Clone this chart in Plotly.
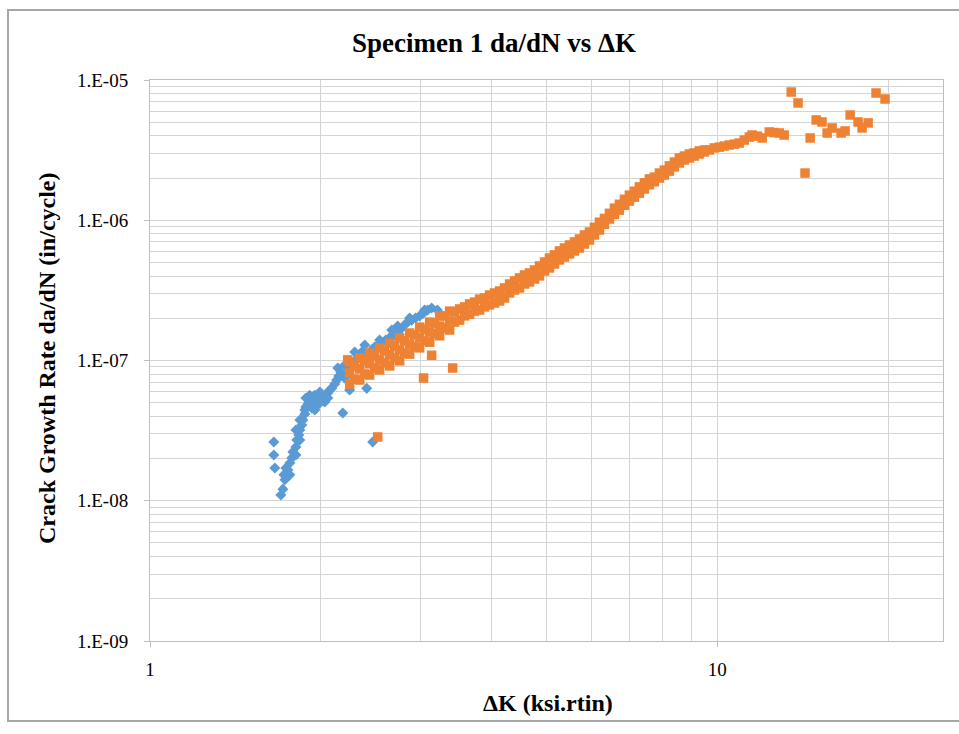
import math
import plotly.graph_objects as go

# ---- data -------------------------------------------------------------
blue_dk = [1.653, 1.653, 1.660, 1.701, 1.715, 1.729, 1.722, 1.750, 1.764, 1.778,
           1.786, 1.808, 1.815, 1.830, 1.837, 1.852, 1.860, 1.875, 1.883, 1.898,
           1.912, 1.936, 1.960, 1.976, 1.992, 2.008, 2.033, 2.058, 2.074, 2.091,
           2.117, 2.134, 2.152, 2.169, 2.187, 2.204, 2.222, 2.249, 2.267, 2.305,
           2.343, 2.371, 2.410, 2.420, 2.459, 2.489, 2.469, 2.520, 2.561, 2.603,
           2.646, 2.690, 2.733, 2.778, 2.811, 2.846, 2.892, 2.939, 2.988, 3.036,
           3.086, 3.137, 1.875, 1.928, 1.976, 2.033, 1.952, 2.058, 1.808, 1.837,
           1.764, 1.736, 1.912, 1.992, 1.952, 1.837, 1.808, 1.883, 2.143, 2.204,
           2.295, 2.391, 2.668, 2.869, 3.049, 3.210, 2.540, 2.733]
blue_rate = [2.62e-8, 2.12e-8, 1.71e-8, 1.10e-8, 1.21e-8, 1.41e-8, 1.53e-8, 1.66e-8, 1.86e-8, 2.02e-8,
             2.23e-8, 2.42e-8, 2.71e-8, 2.94e-8, 3.19e-8, 3.47e-8, 3.77e-8, 4.16e-8, 4.67e-8, 4.90e-8,
             4.98e-8, 5.23e-8, 5.06e-8, 5.40e-8, 5.23e-8, 5.57e-8, 5.66e-8, 5.86e-8, 6.16e-8, 6.33e-8,
             6.80e-8, 7.26e-8, 7.76e-8, 8.28e-8, 4.23e-8, 7.50e-8, 7.88e-8, 6.16e-8, 8.84e-8, 1.01e-7,
             1.06e-7, 1.17e-7, 6.33e-8, 1.09e-7, 1.19e-7, 1.25e-7, 2.62e-8, 1.29e-7, 1.33e-7, 1.40e-7,
             1.46e-7, 1.51e-7, 1.56e-7, 1.70e-7, 1.79e-7, 1.88e-7, 1.94e-7, 2.01e-7, 2.08e-7, 2.18e-7,
             2.29e-7, 2.37e-7, 4.44e-8, 4.59e-8, 4.82e-8, 5.06e-8, 5.66e-8, 5.40e-8, 2.12e-8, 2.71e-8,
             1.53e-8, 1.71e-8, 5.66e-8, 5.96e-8, 4.44e-8, 3.77e-8, 3.19e-8, 5.40e-8, 8.84e-8, 9.30e-8,
             1.15e-7, 1.29e-7, 1.65e-7, 2.01e-7, 2.29e-7, 2.29e-7, 1.40e-7, 1.76e-7]

orange_dk = [2.249, 2.249, 2.249, 2.295, 2.295, 2.343, 2.343, 2.343, 2.391, 2.391,
             2.439, 2.439, 2.439, 2.489, 2.489, 2.540, 2.540, 2.540, 2.592, 2.592,
             2.646, 2.646, 2.646, 2.700, 2.700, 2.755, 2.755, 2.755, 2.811, 2.811,
             2.869, 2.869, 2.869, 2.928, 2.928, 2.988, 2.988, 2.988, 3.049, 3.049,
             3.112, 3.112, 3.112, 3.175, 3.175, 3.240, 3.240, 3.240, 3.307, 3.307,
             3.374, 3.374, 3.374,
             3.443, 3.443, 3.514, 3.514, 3.586, 3.586, 3.659, 3.659, 3.734, 3.734,
             3.811, 3.811, 3.889, 3.889, 3.968, 3.968, 4.050, 4.050, 4.133, 4.133,
             4.217, 4.217, 4.304, 4.304, 4.392, 4.392, 4.481, 4.481, 4.573, 4.573,
             4.667, 4.667, 4.763, 4.763, 4.860, 4.860, 4.960, 4.960, 5.061, 5.061,
             5.165, 5.165, 5.270, 5.270, 5.378, 5.378, 5.489, 5.489, 5.601, 5.601,
             5.715, 5.715, 5.832, 5.832, 5.952, 5.952, 6.074, 6.074, 6.199, 6.199,
             6.325, 6.325, 6.455, 6.455, 6.587, 6.587, 6.722, 6.722, 6.860, 6.860,
             7.000, 7.000, 7.144, 7.144, 7.290, 7.290, 7.439, 7.439, 7.592, 7.592,
             7.747, 7.747, 7.906, 7.906, 8.068, 8.068, 8.233, 8.233, 8.402, 8.402,
             8.574, 8.574, 8.749, 8.749, 8.929, 8.929, 9.111, 9.111, 9.297, 9.297,
             9.488, 9.488, 9.682, 9.880, 10.08, 10.29, 10.50, 10.72, 10.93, 11.16,
             11.39, 11.52, 11.77, 12.00, 12.35, 12.60, 12.86, 13.12,
             13.50, 13.88, 14.28, 14.58, 14.94, 15.30, 15.62, 15.94, 16.53, 16.80,
             17.15, 17.71, 18.00, 18.45, 19.05, 19.76,
             2.231, 2.520, 3.036, 3.137, 3.416]
orange_rate = [9.77e-8, 8.15e-8, 6.80e-8, 9.15e-8, 7.38e-8, 1.04e-7, 8.70e-8, 7.26e-8, 9.94e-8, 8.02e-8,
               1.13e-7, 9.46e-8, 7.88e-8, 1.08e-7, 8.84e-8, 1.23e-7, 1.01e-7, 8.56e-8, 1.17e-7, 9.61e-8,
               1.33e-7, 1.10e-7, 9.15e-8, 1.27e-7, 1.04e-7, 1.45e-7, 1.19e-7, 9.94e-8, 1.38e-7, 1.13e-7,
               1.57e-7, 1.31e-7, 1.11e-7, 1.52e-7, 1.25e-7, 1.73e-7, 1.45e-7, 1.23e-7, 1.67e-7, 1.38e-7,
               1.88e-7, 1.60e-7, 1.35e-7, 1.85e-7, 1.55e-7, 2.08e-7, 1.76e-7, 1.50e-7, 2.08e-7, 1.70e-7,
               2.25e-7, 1.91e-7, 1.65e-7,
               2.22e-7, 1.88e-7, 2.33e-7, 1.94e-7, 2.41e-7, 2.08e-7, 2.53e-7, 2.14e-7, 2.61e-7, 2.25e-7,
               2.74e-7, 2.29e-7, 2.79e-7, 2.41e-7, 2.93e-7, 2.49e-7, 3.03e-7, 2.57e-7, 3.13e-7, 2.66e-7,
               3.29e-7, 2.79e-7, 3.51e-7, 3.03e-7, 3.69e-7, 3.18e-7, 3.88e-7, 3.29e-7, 4.07e-7, 3.51e-7,
               4.21e-7, 3.63e-7, 4.42e-7, 3.81e-7, 4.72e-7, 4.01e-7, 5.04e-7, 4.35e-7, 5.38e-7, 4.57e-7,
               5.66e-7, 4.88e-7, 6.04e-7, 5.21e-7, 6.34e-7, 5.47e-7, 6.66e-7, 5.75e-7, 7.00e-7, 6.04e-7,
               7.35e-7, 6.34e-7, 7.85e-7, 6.77e-7, 8.24e-7, 7.23e-7, 8.91e-7, 7.85e-7, 9.68e-7, 8.52e-7,
               1.03e-6, 9.36e-7, 1.12e-6, 1.02e-6, 1.22e-6, 1.10e-6, 1.30e-6, 1.18e-6, 1.41e-6, 1.28e-6,
               1.51e-6, 1.37e-6, 1.61e-6, 1.46e-6, 1.73e-6, 1.56e-6, 1.85e-6, 1.67e-6, 1.97e-6, 1.79e-6,
               2.03e-6, 1.88e-6, 2.17e-6, 2.00e-6, 2.28e-6, 2.10e-6, 2.44e-6, 2.24e-6, 2.60e-6, 2.40e-6,
               2.78e-6, 2.56e-6, 2.87e-6, 2.69e-6, 2.97e-6, 2.78e-6, 3.02e-6, 2.87e-6, 3.12e-6, 2.97e-6,
               3.17e-6, 3.07e-6, 3.17e-6, 3.28e-6, 3.32e-6, 3.38e-6, 3.44e-6, 3.49e-6, 3.55e-6, 3.73e-6,
               3.92e-6, 4.05e-6, 3.98e-6, 3.86e-6, 4.26e-6, 4.22e-6, 4.19e-6, 4.05e-6,
               8.21e-6, 6.86e-6, 2.17e-6, 3.86e-6, 5.19e-6, 5.02e-6, 4.19e-6, 4.55e-6, 4.19e-6, 4.33e-6,
               5.63e-6, 5.02e-6, 4.55e-6, 4.94e-6, 8.08e-6, 7.32e-6,
               1.01e-7, 2.85e-8, 7.50e-8, 1.09e-7, 8.84e-8]

x_tick_vals = [1, 10]
x_tick_text = ["1", "10"]
y_tick_vals = [1e-9, 1e-8, 1e-7, 1e-6, 1e-5]
y_tick_text = ["1.E-09", "1.E-08", "1.E-07", "1.E-06", "1.E-05"]
x_minor_vals = [2, 3, 4, 5, 6, 7, 8, 9, 20]
y_minor_vals = [k * 10.0 ** d for d in range(-9, -5) for k in range(2, 10)]

title_text = "Specimen 1 da/dN vs ΔK"
x_title = "ΔK (ksi.rtin)"
y_title = "Crack Growth Rate da/dN (in/cycle)"

# ---- figure -----------------------------------------------------------
FONT = "Liberation Serif, Times New Roman, serif"
GRID = "#d4d4d4"

fig = go.Figure()
fig.add_trace(go.Scatter(x=blue_dk, y=blue_rate, mode="markers", name="Series1",
                         marker=dict(symbol="diamond", size=8.5, color="#5b9bd5",
                                     line=dict(width=0))))
fig.add_trace(go.Scatter(x=orange_dk, y=orange_rate, mode="markers", name="Series2",
                         marker=dict(symbol="square", size=9.5, color="#ee8232",
                                     line=dict(width=0))))

L, R, T, B = 150, 16, 80, 93
W, H = 959, 734
pw, ph = W - L - R, H - T - B

def px(xp):
    return (xp - L) / pw

def py(yp):
    return (H - B - yp) / ph

fig.update_layout(
    width=W, height=H,
    margin=dict(l=L, r=R, t=T, b=B),
    paper_bgcolor="white", plot_bgcolor="white",
    showlegend=False,
    font=dict(family=FONT, color="black"),
    xaxis=dict(type="log", range=[0, math.log10(25)],
               tickmode="array", tickvals=x_tick_vals, ticktext=x_tick_text,
               showgrid=True, gridcolor=GRID, gridwidth=1,
               minor=dict(tickmode="array", tickvals=x_minor_vals, showgrid=True,
                          gridcolor=GRID, gridwidth=1, ticks=""),
               showline=True, linecolor="#bfbfbf", linewidth=1, mirror=True,
               ticks="outside", ticklen=5, tickcolor="#bfbfbf",
               tickfont=dict(size=19, family=FONT, color="black"),
               ticklabelstandoff=6, zeroline=False),
    yaxis=dict(type="log", range=[-9, -5],
               tickmode="array", tickvals=y_tick_vals, ticktext=y_tick_text,
               showgrid=True, gridcolor=GRID, gridwidth=1,
               minor=dict(tickmode="array", tickvals=y_minor_vals, showgrid=True,
                          gridcolor=GRID, gridwidth=1, ticks=""),
               showline=True, linecolor="#bfbfbf", linewidth=1, mirror=True,
               ticks="outside", ticklen=5, tickcolor="#bfbfbf",
               tickfont=dict(size=19, family=FONT, color="black"),
               ticklabelstandoff=12, zeroline=False),
)

fig.add_shape(type="rect", xref="paper", yref="paper",
              x0=px(8), x1=px(990), y0=py(721), y1=py(10),
              line=dict(color="#a6a6a6", width=2), layer="below")

fig.add_annotation(text="<b>" + title_text + "</b>", xref="paper", yref="paper",
                   x=px(494), y=py(43), showarrow=False, xanchor="center", yanchor="middle",
                   font=dict(size=27, family=FONT, color="black"))
fig.add_annotation(text="<b>" + x_title + "</b>", xref="paper", yref="paper",
                   x=px(548), y=py(703), showarrow=False, xanchor="center", yanchor="middle",
                   font=dict(size=24, family=FONT, color="black"))
fig.add_annotation(text="<b>" + y_title + "</b>", xref="paper", yref="paper",
                   x=px(47), y=py(358), showarrow=False, xanchor="center", yanchor="middle",
                   textangle=-90,
                   font=dict(size=24, family=FONT, color="black"))

fig.write_html("out.html", config={"displayModeBar": False},
               post_script="document.body.style.margin='0';")
